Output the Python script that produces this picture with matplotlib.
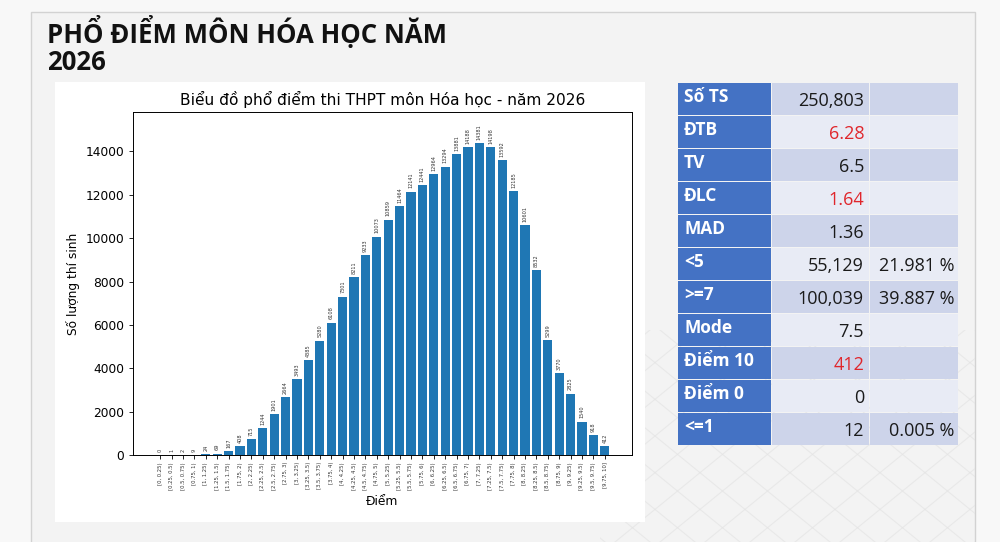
import matplotlib
matplotlib.use("Agg")
import matplotlib.pyplot as plt
from matplotlib.patches import Rectangle

# số liệu phổ điểm
bins = ['[0, 0.25)', '[0.25, 0.5)', '[0.5, 0.75)', '[0.75, 1)', '[1, 1.25)',
        '[1.25, 1.5)', '[1.5, 1.75)', '[1.75, 2)', '[2, 2.25)', '[2.25, 2.5)',
        '[2.5, 2.75)', '[2.75, 3)', '[3, 3.25)', '[3.25, 3.5)', '[3.5, 3.75)',
        '[3.75, 4)', '[4, 4.25)', '[4.25, 4.5)', '[4.5, 4.75)', '[4.75, 5)',
        '[5, 5.25)', '[5.25, 5.5)', '[5.5, 5.75)', '[5.75, 6)', '[6, 6.25)',
        '[6.25, 6.5)', '[6.5, 6.75)', '[6.75, 7)', '[7, 7.25)', '[7.25, 7.5)',
        '[7.5, 7.75)', '[7.75, 8)', '[8, 8.25)', '[8.25, 8.5)', '[8.5, 8.75)',
        '[8.75, 9)', '[9, 9.25)', '[9.25, 9.5)', '[9.5, 9.75)', '[9.75, 10]']
counts = [0, 1, 2, 9, 24, 69, 167, 408, 715, 1244,
          1901, 2664, 3493, 4385, 5280, 6108, 7301, 8211, 9233, 10073,
          10859, 11464, 12141, 12441, 12964, 13294, 13881, 14188, 14381, 14198,
          13592, 12185, 10601, 8532, 5299, 3770, 2825, 1540, 918, 412]

# bảng thống kê
stat_names = ['Số TS', 'ĐTB', 'TV', 'ĐLC', 'MAD', '<5', '>=7', 'Mode', 'Điểm 10', 'Điểm 0', '<=1']
stat_values = ['250,803', '6.28', '6.5', '1.64', '1.36', '55,129', '100,039', '7.5', '412', '0', '12']
stat_pcts = ['', '', '', '', '', '21.981 %', '39.887 %', '', '', '', '0.005 %']
red_rows = ['ĐTB', 'ĐLC', 'Điểm 10']

W, H = 1000, 542
fig = plt.figure(figsize=(W / 100, H / 100), dpi=100)
fig.patch.set_facecolor('#f8f8f8')


def fbox(x0, y0, x1, y1):
    # pixel box -> figure fraction
    return [x0 / W, 1 - y1 / H, (x1 - x0) / W, (y1 - y0) / H]


# khung slide + nền trắng của ảnh biểu đồ
b = fbox(31, 12, 975, 560)
fig.patches.append(Rectangle((b[0], b[1]), b[2], b[3], transform=fig.transFigure,
                             facecolor='#f3f3f3', edgecolor='#d2d2d2', lw=1, zorder=-3))

# hoa văn mờ góc dưới phải
bg = fig.add_axes(fbox(600, 330, 975, 542), zorder=-2.5)
bg.set_xlim(0, 375)
bg.set_ylim(212, 0)
bg.axis('off')
for k in range(-300, 500, 45):
    bg.plot([k, k + 260], [0, 212], color='#e4e4e4', lw=0.8, alpha=0.7)
    bg.plot([k + 260, k], [0, 212], color='#e4e4e4', lw=0.8, alpha=0.7)

b = fbox(55, 82, 645, 522)
fig.patches.append(Rectangle((b[0], b[1]), b[2], b[3], transform=fig.transFigure,
                             facecolor='white', edgecolor='none', zorder=-2))

fig.text(47 / W, 1 - 32 / H, 'PHỔ ĐIỂM MÔN HÓA HỌC NĂM', fontsize=18.5, fontweight='bold',
         family=['Open Sans', 'DejaVu Sans'], va='center', ha='left', color='#111111')
fig.text(47 / W, 1 - 62 / H, '2026', fontsize=18.5, fontweight='bold',
         family=['Open Sans', 'DejaVu Sans'], va='center', ha='left', color='#111111')

# biểu đồ cột
ax = fig.add_axes(fbox(133, 112, 632, 455))
x = list(range(len(bins)))
ax.bar(x, counts, color='#1f77b4', width=0.8)
for i, v in enumerate(counts):
    ax.text(i, v + 150, str(v), rotation=90, ha='center', va='bottom', fontsize=3.6, color='#333333')
ax.set_ylim(0, max(counts) * 1.1)
ax.set_xticks(x)
ax.set_xticklabels(bins, rotation=90, fontsize=3.8, color='#333333')
ax.tick_params(axis='x', length=3, width=0.6, pad=2)
ax.tick_params(axis='y', labelsize=8.8, length=3, width=0.6)
ax.set_title('Biểu đồ phổ điểm thi THPT môn Hóa học - năm 2026', fontsize=11.1, pad=5)
ax.set_ylabel('Số lượng thí sinh', fontsize=8.8)
ax.set_xlabel('Điểm', fontsize=8.8, labelpad=4)
for s in ax.spines.values():
    s.set_linewidth(0.7)

# bảng bên phải
tx0, ty0, tx1, ty1 = 678, 83, 958, 446
tab = fig.add_axes(fbox(tx0, ty0, tx1, ty1))
tab.set_xlim(0, tx1 - tx0)
tab.set_ylim(ty1 - ty0, 0)
tab.axis('off')
rh = (ty1 - ty0) / len(stat_names)
cols = [(0, 93), (94, 191), (192, 280)]
tfont = ['Open Sans', 'DejaVu Sans']
for r, name in enumerate(stat_names):
    y = r * rh
    bgc = '#cdd4ea' if r % 2 == 0 else '#e8ebf5'
    tab.add_patch(Rectangle((cols[0][0], y), cols[0][1] - cols[0][0], rh - 1.5,
                            facecolor='#4472c4', edgecolor='none'))
    for c0, c1 in cols[1:]:
        tab.add_patch(Rectangle((c0, y), c1 - c0, rh - 1.5, facecolor=bgc, edgecolor='none'))
    tab.text(6, y + rh * 0.42, name, color='white', fontsize=12.5, fontweight='bold',
             family=tfont, ha='left', va='center')
    vcol = '#e0262b' if name in red_rows else '#1a1a1a'
    tab.text(cols[1][1] - 5, y + rh * 0.55, stat_values[r], color=vcol, fontsize=13,
             family=tfont, ha='right', va='center')
    if stat_pcts[r]:
        tab.text(cols[2][1] - 4, y + rh * 0.55, stat_pcts[r], color='#1a1a1a', fontsize=13,
                 family=tfont, ha='right', va='center')

fig.savefig('out.png', dpi=100, facecolor=fig.get_facecolor())
